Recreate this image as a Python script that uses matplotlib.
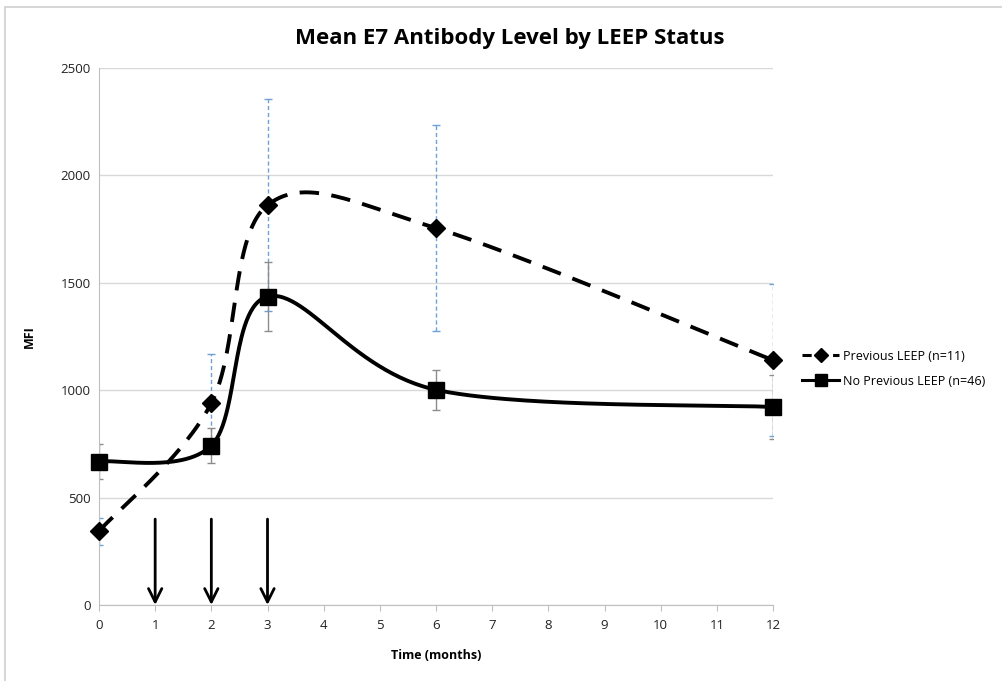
import numpy as np
import matplotlib
matplotlib.use('Agg')
from matplotlib import pyplot as plt
from matplotlib.patches import Rectangle

months = [0, 2, 3, 6, 12]
prev_leep = [344, 940, 1862, 1755, 1140]
prev_leep_err = [63, 230, 495, 478, 355]
no_prev_leep = [668, 742, 1436, 1002, 922]
no_prev_leep_err = [80, 80, 160, 92, 150]
arrow_months = [1, 2, 3]
x_ticks = list(range(0, 13))
y_ticks = [0, 500, 1000, 1500, 2000, 2500]


def smooth(xs, ys, sx, sy, n=60):
    # Excel-like smoothed line: cubic Bezier through points (screen-scaled)
    p = np.column_stack([np.array(xs) * sx, np.array(ys) * sy]).astype(float)
    p_ext = np.vstack([p[0], p, p[-1]])
    out = []
    for i in range(len(p) - 1):
        p0, p1, p2, p3 = p_ext[i], p_ext[i + 1], p_ext[i + 2], p_ext[i + 3]
        c1 = p1 + (p2 - p0) / 6.0
        c2 = p2 - (p3 - p1) / 6.0
        t = np.linspace(0, 1, n)[:, None]
        seg = ((1 - t) ** 3) * p1 + 3 * ((1 - t) ** 2) * t * c1 + 3 * (1 - t) * t ** 2 * c2 + t ** 3 * p2
        out.append(seg if i == 0 else seg[1:])
    out = np.vstack(out)
    return out[:, 0] / sx, out[:, 1] / sy


plt.rcParams['font.family'] = ['Open Sans', 'DejaVu Sans']

fig = plt.figure(figsize=(10.03, 6.81), dpi=100)
fig.patches.append(Rectangle((0.005, -0.01), 1.2, 1.0, transform=fig.transFigure,
                             fill=False, edgecolor='#cfcfcf', linewidth=1.2))
ax = fig.add_axes([0.0987, 0.1116, 0.6720, 0.7884])

# pixel per data-unit scale for smoothing
sx = 674 / 12.0
sy = 537 / 2500.0

ax.set_ylim(0, 2500)
ax.set_xlim(-0.0, 12.0)
ax.set_xticks(x_ticks)
ax.set_yticks(y_ticks)
ax.yaxis.grid(True, color='#d9d9d9', linewidth=1.0)
ax.set_axisbelow(True)
for s in ['top', 'right']:
    ax.spines[s].set_visible(False)
ax.spines['left'].set_color('#bfbfbf')
ax.spines['bottom'].set_color('#bfbfbf')
ax.tick_params(axis='y', length=0, labelsize=9.5, pad=6, colors='#222222')
ax.tick_params(axis='x', length=4, color='#bfbfbf', labelsize=9.5, pad=6, labelcolor='#222222')

# error bars
eb1 = ax.errorbar(months, prev_leep, yerr=prev_leep_err, fmt='none', ecolor='#6fa0d8',
                  elinewidth=1.0, capsize=3, capthick=1.0, zorder=2)
for lc in eb1[2]:
    lc.set_linestyle((0, (3, 2)))
ax.errorbar(months, no_prev_leep, yerr=no_prev_leep_err, fmt='none', ecolor='#8c8c8c',
            elinewidth=1.0, capsize=3, capthick=1.0, zorder=2)

# smoothed lines
xs1, ys1 = smooth(months, prev_leep, sx, sy)
xs2, ys2 = smooth(months, no_prev_leep, sx, sy)
ax.plot(xs1, ys1, color='black', linewidth=2.8, linestyle=(0, (5, 3.2)), zorder=3, clip_on=False)
ax.plot(xs2, ys2, color='black', linewidth=2.8, zorder=3, clip_on=False)
ax.plot(months, prev_leep, linestyle='none', marker='D', markersize=9.5, color='black', zorder=4, clip_on=False)
ax.plot(months, no_prev_leep, linestyle='none', marker='s', markersize=11.5, color='black', zorder=4, clip_on=False)

# legend proxies
h1, = ax.plot([], [], color='black', linewidth=2.2, linestyle=(0, (3, 2)), marker='D', markersize=7)
h2, = ax.plot([], [], color='black', linewidth=2.2, marker='s', markersize=8)
ax.legend([h1, h2], ['Previous LEEP (n=11)', 'No Previous LEEP (n=46)'],
          loc='center left', bbox_to_anchor=(1.03, 0.44), frameon=False,
          fontsize=9, handlelength=3.0, handletextpad=0.3, labelspacing=0.95,
          borderpad=0.2)

# arrows
for m in arrow_months:
    ax.annotate('', xy=(m, 0), xytext=(m, 400),
                arrowprops=dict(arrowstyle='->', color='black', linewidth=2.0,
                                mutation_scale=24, shrinkA=0, shrinkB=0))

ax.set_xlabel('Time (months)', fontsize=9, fontweight='bold', labelpad=12)
ax.set_ylabel('MFI', fontsize=9, fontweight='bold', labelpad=18)
fig.text(0.508, 0.944, 'Mean E7 Antibody Level by LEEP Status', ha='center', va='center',
         fontsize=16, fontweight='bold')

fig.savefig('out.png', dpi=100)
